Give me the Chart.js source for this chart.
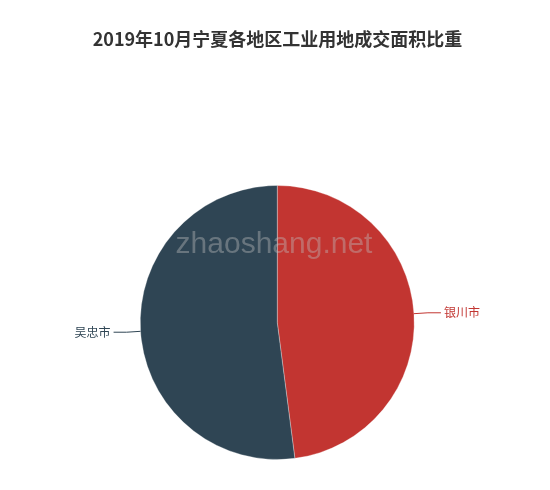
<!DOCTYPE html>
<html>
<head>
<meta charset="utf-8">
<script src="https://cdn.jsdelivr.net/npm/chart.js@4"></script>
<style>
html,body{margin:0;padding:0;background:#fff;}
#wrap{width:550px;height:490px;position:relative;}
</style>
</head>
<body>
<div id="wrap"><canvas id="c" width="550" height="490"></canvas></div>
<script>
const titleText = '2019年10月宁夏各地区工业用地成交面积比重';
const categories = ['银川市', '吴忠市'];
const values = [47.95, 52.05];
const colors = ['#c23531', '#2f4554'];

const labelPlugin = {
  id: 'customLabels',
  afterDraw(chart) {
    const ctx = chart.ctx;
    // title
    ctx.save();
    ctx.font = 'bold 18px "Noto Sans CJK SC", sans-serif';
    ctx.fillStyle = '#333';
    ctx.textAlign = 'center';
    ctx.textBaseline = 'middle';
    ctx.fillText(titleText, 277.5, 39);
    ctx.restore();

    const meta = chart.getDatasetMeta(0);
    meta.data.forEach((arc, i) => {
      const p = arc.getProps(['x', 'y', 'startAngle', 'endAngle', 'outerRadius'], true);
      const mid = (p.startAngle + p.endAngle) / 2;
      const cos = Math.cos(mid), sin = Math.sin(mid);
      const x0 = p.x + cos * p.outerRadius, y0 = p.y + sin * p.outerRadius;
      const x1 = p.x + cos * (p.outerRadius + 14), y1 = p.y + sin * (p.outerRadius + 14);
      const dir = cos >= 0 ? 1 : -1;
      const x2 = x1 + dir * 13;
      ctx.save();
      ctx.strokeStyle = colors[i];
      ctx.lineWidth = 1;
      ctx.beginPath();
      ctx.moveTo(x0, y0);
      ctx.lineTo(x1, y1);
      ctx.lineTo(x2, y1);
      ctx.stroke();
      ctx.font = '12px "Noto Sans CJK SC", sans-serif';
      ctx.fillStyle = colors[i];
      ctx.textBaseline = 'middle';
      ctx.textAlign = dir > 0 ? 'left' : 'right';
      ctx.fillText(categories[i], x2 + dir * 3, y1);
      ctx.restore();
    });

    // watermark
    ctx.save();
    ctx.font = '30px "Liberation Sans", Arial, sans-serif';
    ctx.fillStyle = 'rgba(190,190,190,0.4)';
    ctx.textAlign = 'center';
    ctx.textBaseline = 'alphabetic';
    ctx.fillText('zhaoshang.net', 274, 253);
    ctx.restore();
  }
};

new Chart(document.getElementById('c'), {
  type: 'pie',
  data: {
    labels: categories,
    datasets: [{
      data: values,
      backgroundColor: colors,
      borderColor: 'rgba(255,255,255,0.6)',
      borderWidth: 0.5
    }]
  },
  options: {
    responsive: false,
    animation: false,
    layout: { padding: { top: 185, bottom: 30, left: 140, right: 135.5 } },
    plugins: { legend: { display: false }, tooltip: { enabled: false }, title: { display: false } }
  },
  plugins: [labelPlugin]
});
</script>
</body>
</html>
